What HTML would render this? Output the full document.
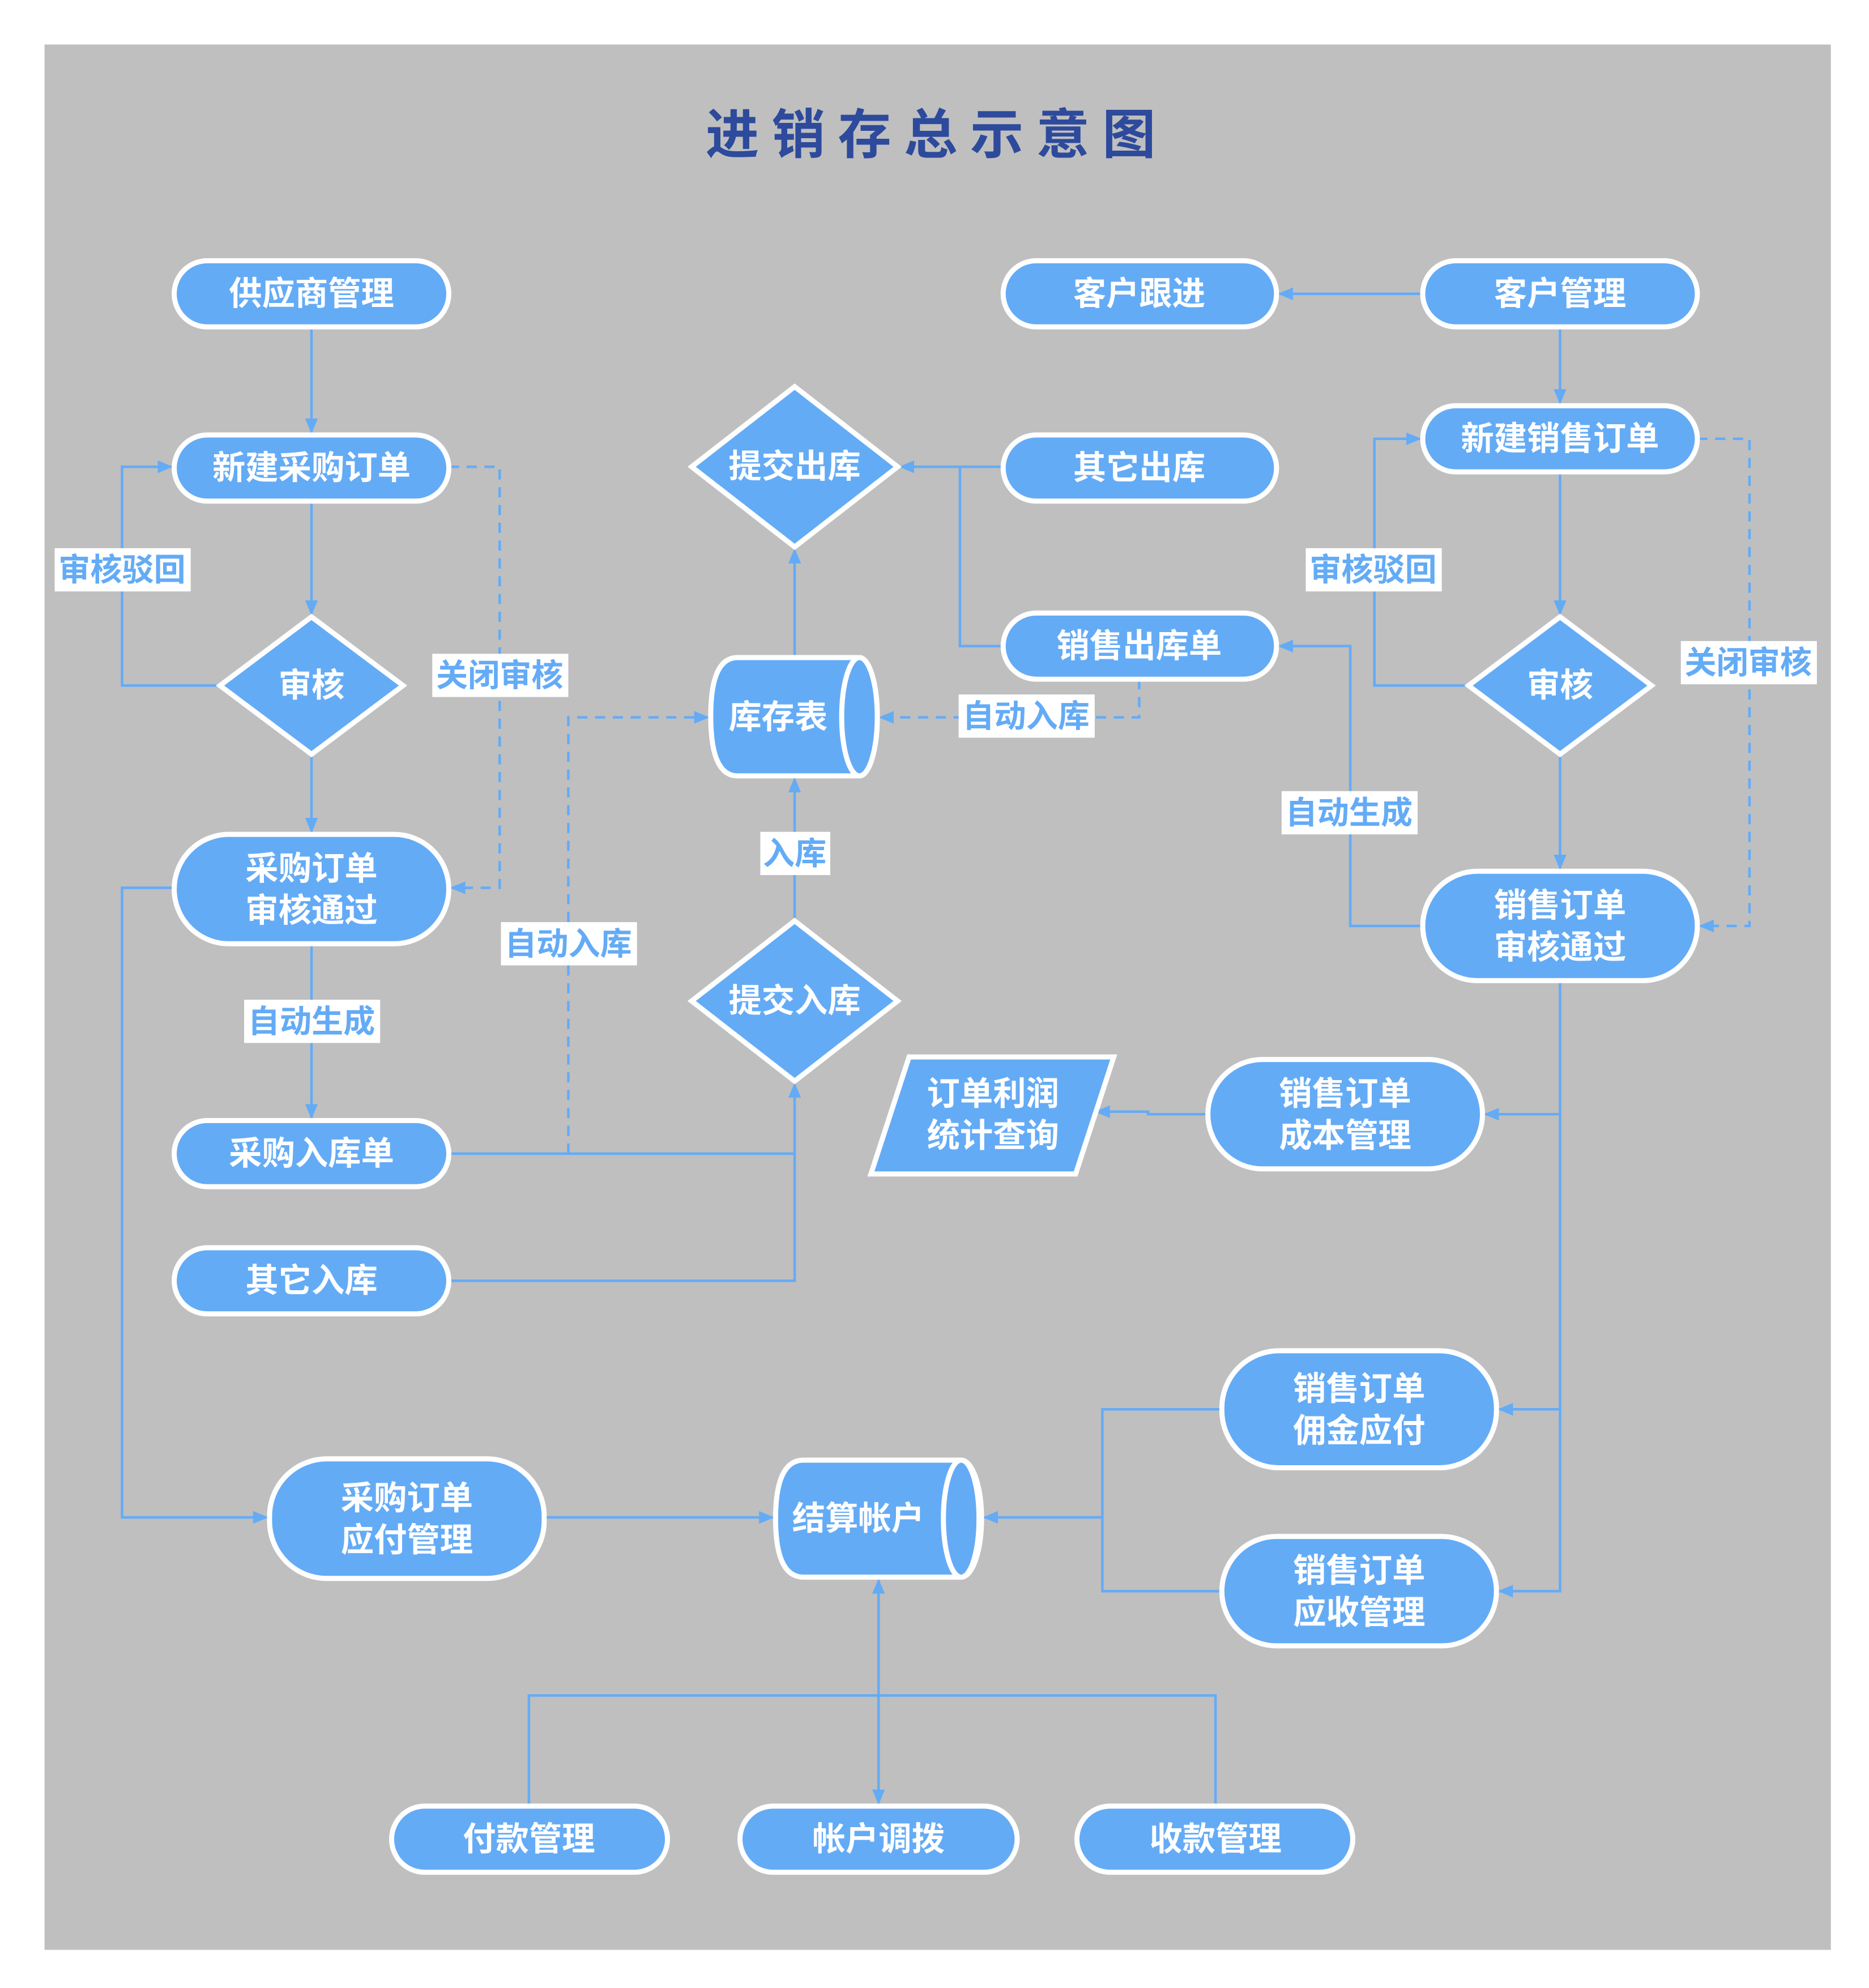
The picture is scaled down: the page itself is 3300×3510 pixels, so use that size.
<!DOCTYPE html>
<html><head><meta charset="utf-8"><style>
html,body{margin:0;padding:0;background:#fff;}
svg{display:block;}
.n{fill:#64abf6;stroke:#fff;stroke-width:4;}
.t{fill:#fff;font-family:"Liberation Sans","Noto Sans CJK SC",sans-serif;font-weight:bold;font-size:26px;text-anchor:middle;dominant-baseline:central;}
.l{fill:none;stroke:#64abf6;stroke-width:2;}
.d{fill:none;stroke:#64abf6;stroke-width:2;stroke-dasharray:8 6;}
.lb{fill:#64abf6;font-family:"Liberation Sans","Noto Sans CJK SC",sans-serif;font-weight:bold;font-size:25px;text-anchor:middle;dominant-baseline:central;}
</style></head><body>
<svg width="3300" height="3510" viewBox="0 0 1470 1563" preserveAspectRatio="none" xmlns="http://www.w3.org/2000/svg">
<defs><marker id="a" markerWidth="12" markerHeight="10" refX="11" refY="5" orient="auto" markerUnits="userSpaceOnUse"><path d="M0,0 L12,5 L0,10 Z" fill="#64abf6"/></marker></defs>
<rect x="0" y="0" width="1470" height="1563" fill="#fff"/>
<rect x="35" y="35" width="1405" height="1498" fill="#bfbfbf"/>
<text x="737" y="106" text-anchor="middle" dominant-baseline="central" fill="#2d4a9c" font-family="'Liberation Sans','Noto Sans CJK SC',sans-serif" font-weight="bold" font-size="42" letter-spacing="10">进销存总示意图</text>

<!-- connectors -->
<g>
<path class="l" d="M245,257 V340" marker-end="url(#a)"/>
<path class="l" d="M245,394 V483" marker-end="url(#a)"/>
<path class="l" d="M173,539 H96 V367 H135" marker-end="url(#a)"/>
<path class="d" d="M353,367 H393 V698 H355" marker-end="url(#a)"/>
<path class="l" d="M245,593 V654" marker-end="url(#a)"/>
<path class="l" d="M245,742 V879" marker-end="url(#a)"/>
<path class="l" d="M137,698 H96 V1193 H210" marker-end="url(#a)"/>
<path class="l" d="M353,907 H625 V852" marker-end="url(#a)"/>
<path class="l" d="M353,1007 H625 V907"/>
<path class="d" d="M447,907 V564 H557" marker-end="url(#a)"/>
<path class="l" d="M625,724 V612" marker-end="url(#a)"/>
<path class="l" d="M625,517 V432" marker-end="url(#a)"/>
<path class="l" d="M789,367 H708" marker-end="url(#a)"/>
<path class="l" d="M789,508 H755 V367"/>
<path class="d" d="M896,534 V564 H692" marker-end="url(#a)"/>
<path class="l" d="M1119,231 H1006" marker-end="url(#a)"/>
<path class="l" d="M1227,257 V317" marker-end="url(#a)"/>
<path class="l" d="M1227,371 V483" marker-end="url(#a)"/>
<path class="l" d="M1155,539 H1081 V345 H1117" marker-end="url(#a)"/>
<path class="d" d="M1335,345 H1376 V728 H1337" marker-end="url(#a)"/>
<path class="l" d="M1227,593 V683" marker-end="url(#a)"/>
<path class="l" d="M1119,728 H1062 V508 H1006" marker-end="url(#a)"/>
<path class="l" d="M1227,771 V1251 H1179" marker-end="url(#a)"/>
<path class="l" d="M1227,876 H1168" marker-end="url(#a)"/>
<path class="l" d="M1227,1108 H1179" marker-end="url(#a)"/>
<path class="l" d="M950,876 H903 V874 H862" marker-end="url(#a)"/>
<path class="l" d="M961,1108 H867 V1251 H961"/>
<path class="l" d="M867,1193 H774" marker-end="url(#a)"/>
<path class="l" d="M428,1193 H608" marker-end="url(#a)"/>
<path class="l" d="M416,1420 V1333 H956 V1420"/>
<path class="l" d="M691,1333 V1242" marker-end="url(#a)"/>
<path class="l" d="M691,1333 V1418" marker-end="url(#a)"/>
</g>

<!-- labels -->
<g>
<rect x="43" y="431" width="107" height="34" fill="#fff"/><text class="lb" x="96" y="448">审核驳回</text>
<rect x="340" y="514" width="107" height="34" fill="#fff"/><text class="lb" x="393" y="531">关闭审核</text>
<rect x="192" y="786" width="107" height="34" fill="#fff"/><text class="lb" x="245" y="803">自动生成</text>
<rect x="394" y="725" width="107" height="34" fill="#fff"/><text class="lb" x="447" y="742">自动入库</text>
<rect x="598" y="654" width="55" height="34" fill="#fff"/><text class="lb" x="625" y="671">入库</text>
<rect x="754" y="546" width="107" height="34" fill="#fff"/><text class="lb" x="807" y="563">自动入库</text>
<rect x="1027" y="431" width="107" height="34" fill="#fff"/><text class="lb" x="1080" y="448">审核驳回</text>
<rect x="1322" y="504" width="107" height="34" fill="#fff"/><text class="lb" x="1375" y="521">关闭审核</text>
<rect x="1008" y="622" width="107" height="34" fill="#fff"/><text class="lb" x="1061" y="639">自动生成</text>
</g>

<!-- nodes -->
<g>
<rect class="n" x="137" y="205" width="216" height="52" rx="26"/><text class="t" x="245" y="231">供应商管理</text>
<rect class="n" x="137" y="342" width="216" height="52" rx="26"/><text class="t" x="245" y="368">新建采购订单</text>
<polygon class="n" points="245,485 317,539 245,593 173,539"/><text class="t" x="245" y="539">审核</text>
<rect class="n" x="137" y="656" width="216" height="86" rx="43"/><text class="t" x="245" y="683">采购订单</text><text class="t" x="245" y="716">审核通过</text>
<rect class="n" x="137" y="881" width="216" height="52" rx="26"/><text class="t" x="245" y="907">采购入库单</text>
<rect class="n" x="137" y="981" width="216" height="52" rx="26"/><text class="t" x="245" y="1007">其它入库</text>
<rect class="n" x="212" y="1147" width="216" height="94" rx="45"/><text class="t" x="320" y="1178">采购订单</text><text class="t" x="320" y="1211">应付管理</text>

<path class="n" d="M632,1148 H756 A16,46 0 0 1 756,1240 H632 Q610,1240 610,1194 Q610,1148 632,1148 Z"/>
<ellipse class="n" cx="756" cy="1194" rx="14" ry="46"/>
<text class="t" x="675" y="1194">结算帐户</text>

<rect class="n" x="308" y="1420" width="217" height="52" rx="26"/><text class="t" x="416" y="1446">付款管理</text>
<rect class="n" x="582" y="1420" width="218" height="52" rx="26"/><text class="t" x="691" y="1446">帐户调拨</text>
<rect class="n" x="847" y="1420" width="217" height="52" rx="26"/><text class="t" x="956" y="1446">收款管理</text>

<polygon class="n" points="625,304 706,367 625,430 544,367"/><text class="t" x="625" y="367">提交出库</text>
<rect class="n" x="789" y="342" width="215" height="52" rx="26"/><text class="t" x="896" y="368">其它出库</text>
<rect class="n" x="789" y="482" width="215" height="52" rx="26"/><text class="t" x="896" y="508">销售出库单</text>

<path class="n" d="M580,517 H676 A14,46.5 0 0 1 676,610 H580 Q559,610 559,563 Q559,517 580,517 Z"/>
<ellipse class="n" cx="676" cy="563.5" rx="14" ry="46.5"/>
<text class="t" x="612" y="564">库存表</text>

<polygon class="n" points="625,724 706,787 625,850 544,787"/><text class="t" x="625" y="787">提交入库</text>
<polygon class="n" points="715,831 876,831 846,923 685,923"/><text class="t" x="781" y="860">订单利润</text><text class="t" x="781" y="893">统计查询</text>
<rect class="n" x="950" y="833" width="216" height="86" rx="43"/><text class="t" x="1058" y="860">销售订单</text><text class="t" x="1058" y="893">成本管理</text>

<rect class="n" x="789" y="205" width="215" height="52" rx="26"/><text class="t" x="896" y="231">客户跟进</text>
<rect class="n" x="1119" y="205" width="216" height="52" rx="26"/><text class="t" x="1227" y="231">客户管理</text>
<rect class="n" x="1119" y="319" width="216" height="52" rx="26"/><text class="t" x="1227" y="345">新建销售订单</text>
<polygon class="n" points="1227,485 1299,539 1227,593 1155,539"/><text class="t" x="1227" y="539">审核</text>
<rect class="n" x="1119" y="685" width="216" height="86" rx="43"/><text class="t" x="1227" y="712">销售订单</text><text class="t" x="1227" y="745">审核通过</text>
<rect class="n" x="961" y="1062" width="216" height="92" rx="45"/><text class="t" x="1069" y="1092">销售订单</text><text class="t" x="1069" y="1125">佣金应付</text>
<rect class="n" x="961" y="1208" width="216" height="86" rx="43"/><text class="t" x="1069" y="1235">销售订单</text><text class="t" x="1069" y="1268">应收管理</text>
</g>
</svg>
</body></html>
